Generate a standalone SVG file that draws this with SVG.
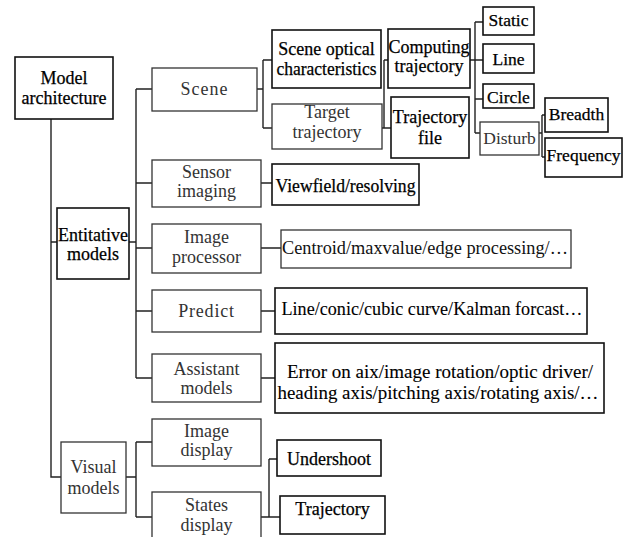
<svg xmlns="http://www.w3.org/2000/svg" width="629" height="537" viewBox="0 0 629 537">
<style>
rect{fill:#fff}
.d rect{stroke:#111;stroke-width:1.6}
.g rect{stroke:#333;stroke-width:1.3}
text{font-size:18px;text-anchor:middle}
.d text{fill:#000;stroke:#000;stroke-width:0.25}
.g text{fill:#333}
.s text{font-size:17.5px}
#connectors path{fill:none;stroke:#222;stroke-width:1.4}
</style>
<rect x="0" y="0" width="629" height="537" style="stroke:none"/>
<g id="connectors">
<path d="M51 119V477H61M51 242H57"/>
<path d="M129 242H136M136 89V378M136 89H152M136 183H152M136 248H152M136 311H152M136 378H152"/>
<path d="M126 477H136M136 442V517M136 442H152M136 517H152"/>
<path d="M257 89H263M263 60V128M263 60H272M263 128H272"/>
<path d="M382 128H384M384 60V128M384 60H388M384 128H391"/>
<path d="M470 60H475M475 22V133M475 22H483M475 60H483M475 99H483M475 133H480"/>
<path d="M539 133H542M542 115V157M542 115H545M542 157H545"/>
<path d="M261 183H272M261 248H281M261 311H275M261 378H275"/>
<path d="M261 517H280M269 459V517M269 459H277"/>
</g>
<g font-family="Liberation Serif, serif">
<g id="model-architecture" class="d"><rect x="15" y="57" width="98" height="62"/><text x="64" y="84">Model</text><text x="64" y="104">architecture</text></g>
<g id="entitative-models" class="d"><rect x="57" y="208" width="72" height="71"/><text x="93" y="241">Entitative</text><text x="93" y="260">models</text></g>
<g id="visual-models" class="g"><rect x="61" y="442" width="65" height="71"/><text x="93.5" y="473">Visual</text><text x="93.5" y="494">models</text></g>
<g id="scene" class="g"><rect x="152" y="68" width="105" height="43"/><text x="204.5" y="95" letter-spacing="1">Scene</text></g>
<g id="sensor-imaging" class="g"><rect x="152" y="160" width="109" height="47"/><text x="206.5" y="178">Sensor</text><text x="206.5" y="197">imaging</text></g>
<g id="image-processor" class="g"><rect x="152" y="224" width="109" height="49"/><text x="206.5" y="243">Image</text><text x="206.5" y="263">processor</text></g>
<g id="predict" class="g"><rect x="152" y="290" width="109" height="42"/><text x="206.5" y="317" letter-spacing="0.8">Predict</text></g>
<g id="assistant-models" class="g"><rect x="152" y="354" width="109" height="48"/><text x="206.5" y="375">Assistant</text><text x="206.5" y="394">models</text></g>
<g id="image-display" class="g"><rect x="152" y="419" width="109" height="47"/><text x="206.5" y="437">Image</text><text x="206.5" y="456">display</text></g>
<g id="states-display" class="g"><rect x="152" y="492" width="109" height="55"/><text x="206.5" y="511">States</text><text x="206.5" y="531">display</text></g>
<g id="scene-optical" class="d"><rect x="272" y="30" width="109" height="58"/><text x="326.5" y="55">Scene optical</text><text x="326.5" y="75" textLength="100" lengthAdjust="spacingAndGlyphs">characteristics</text></g>
<g id="target-trajectory" class="g"><rect x="272" y="104" width="110" height="45"/><text x="327" y="118">Target</text><text x="327" y="138">trajectory</text></g>
<g id="computing-trajectory" class="d"><rect x="388" y="29" width="82" height="59"/><text x="429" y="53">Computing</text><text x="429" y="72">trajectory</text></g>
<g id="trajectory-file" class="d"><rect x="391" y="97" width="78" height="61"/><text x="430" y="123">Trajectory</text><text x="430" y="144">file</text></g>
<g id="static" class="d s"><rect x="483" y="7" width="51" height="28"/><text x="508.5" y="26">Static</text></g>
<g id="line" class="d s"><rect x="483" y="44" width="51" height="29"/><text x="508.5" y="65">Line</text></g>
<g id="circle" class="d s"><rect x="483" y="84" width="51" height="24"/><text x="508.5" y="103">Circle</text></g>
<g id="disturb" class="g s"><rect x="480" y="122" width="59" height="33"/><text x="509.5" y="144">Disturb</text></g>
<g id="breadth" class="d s"><rect x="545" y="98" width="63" height="34"/><text x="576.5" y="120">Breadth</text></g>
<g id="frequency" class="d s"><rect x="545" y="138" width="77" height="39"/><text x="583.5" y="161">Frequency</text></g>
<g id="viewfield" class="d"><rect x="272" y="164" width="147" height="41"/><text x="345.5" y="192" textLength="140" lengthAdjust="spacingAndGlyphs">Viewfield/resolving</text></g>
<g id="centroid" class="g"><rect x="281" y="230" width="290" height="38"/><text x="425" y="254" textLength="286" lengthAdjust="spacingAndGlyphs" style="fill:#111">Centroid/maxvalue/edge processing/…</text></g>
<g id="line-conic" class="d"><rect x="275" y="288" width="312" height="46"/><text x="432" y="315" textLength="301" lengthAdjust="spacingAndGlyphs" style="stroke-width:0.1">Line/conic/cubic curve/Kalman forcast…</text></g>
<g id="error" class="d"><rect x="275" y="343" width="329" height="70"/><text x="440" y="378" textLength="306" lengthAdjust="spacingAndGlyphs" style="stroke-width:0.1">Error on aix/image rotation/optic driver/</text><text x="438" y="399" textLength="321" lengthAdjust="spacingAndGlyphs" style="stroke-width:0.1">heading axis/pitching axis/rotating axis/…</text></g>
<g id="undershoot" class="d"><rect x="277" y="440" width="104" height="36"/><text x="329" y="465">Undershoot</text></g>
<g id="trajectory" class="d"><rect x="280" y="496" width="105" height="38"/><text x="332.5" y="515">Trajectory</text></g>
</g>
</svg>
